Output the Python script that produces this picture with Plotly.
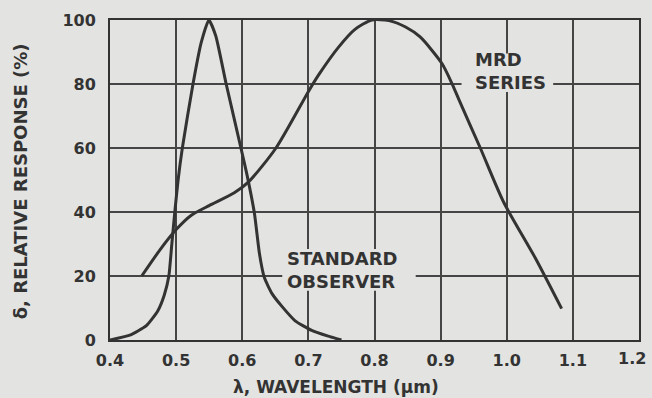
import plotly.graph_objects as go

# Standard observer curve (wavelength um, relative response %)
std_wl = [0.40, 0.43, 0.455, 0.472, 0.482, 0.489, 0.4935, 0.498, 0.503, 0.5094, 0.5255, 0.538,
          0.5495, 0.560, 0.5757, 0.598, 0.6068, 0.6184, 0.626, 0.6334, 0.645, 0.66, 0.68, 0.705,
          0.73, 0.75]
std_resp = [0, 1.5, 4.5, 9, 14, 20, 30, 40, 50, 60, 80, 93,
            100, 95, 80, 60, 52, 39.6, 27, 19.5, 14.5, 10.5, 6, 3,
            1.2, 0]

# MRD series curve
mrd_wl = [0.448, 0.475, 0.50, 0.523, 0.55, 0.588, 0.610, 0.651, 0.701, 0.716, 0.746,
          0.770, 0.796, 0.8217, 0.847, 0.869, 0.902, 0.917, 0.930, 0.960, 0.995, 1.043, 1.083]
mrd_resp = [20, 28, 34.5, 39, 42, 46, 49.5, 60, 78, 83, 91.6,
            97, 100, 99.8, 97.8, 94.7, 86.4, 80.2, 74, 60, 43.2, 25.7, 9.8]

x_ticks = [0.4, 0.5, 0.6, 0.7, 0.8, 0.9, 1.0, 1.1, 1.2]
x_labels = ["0.4", "0.5", "0.6", "0.7", "0.8", "0.9", "1.0", "1.1", "1.2"]
y_ticks = [0, 20, 40, 60, 80, 100]
y_labels = ["0", "20", "40", "60", "80", "100"]

BG = "#e3e3e1"
INK = "#333333"
GRID = "#454545"
FONT = "DejaVu Sans"

fig = go.Figure()
fig.add_trace(go.Scatter(x=std_wl, y=std_resp, mode="lines",
                         line=dict(color=INK, width=3, shape="spline", smoothing=0.5),
                         showlegend=False))
fig.add_trace(go.Scatter(x=mrd_wl, y=mrd_resp, mode="lines",
                         line=dict(color=INK, width=3, shape="spline", smoothing=0.7),
                         showlegend=False))

# gaps in the grid behind the curve labels
fig.add_shape(type="rect", xref="x", yref="y", x0=0.9316, x1=1.0702, y0=77.5, y1=89.5,
              fillcolor=BG, line=dict(width=0), layer="between")
fig.add_shape(type="rect", xref="x", yref="y", x0=0.6605, x1=0.8623, y0=15.4, y1=28.4,
              fillcolor=BG, line=dict(width=0), layer="between")

tickfont = dict(family=FONT, size=16, color=INK, weight="bold")
# last x label (at the very right edge) is drawn as an annotation so it is not hidden
x_axis_text = x_labels[:-1] + [""]
fig.update_xaxes(range=[0.4, 1.2], tickvals=x_ticks, ticktext=x_axis_text, showgrid=True,
                 gridcolor=GRID, gridwidth=1.5, showline=True, linecolor=INK, linewidth=2,
                 mirror=True, zeroline=False, ticks="", tickfont=tickfont, ticklabelstandoff=5)
fig.update_yaxes(range=[0, 100], tickvals=y_ticks, ticktext=y_labels, showgrid=True,
                 gridcolor=GRID, gridwidth=1.5, showline=True, linecolor=INK, linewidth=2,
                 mirror=True, zeroline=False, ticks="", tickfont=tickfont, ticklabelstandoff=9)
fig.add_annotation(x=1.0, y=-(359 - 340) / 324, xref="paper", yref="paper",
                   text=x_labels[-1], showarrow=False, xanchor="right", yanchor="middle",
                   xshift=9, font=tickfont)

annfont = dict(family=FONT, size=18, color=INK, weight="bold")
fig.add_annotation(x=0.9496, y=84.0, xref="x", yref="y", text="MRD<br>SERIES",
                   showarrow=False, xanchor="left", yanchor="middle", align="left", font=annfont)
fig.add_annotation(x=0.6605 + 0.004, y=21.8, xref="x", yref="y", text="STANDARD<br>OBSERVER",
                   showarrow=False, xanchor="left", yanchor="middle", align="left", font=annfont)

# axis titles
fig.add_annotation(x=(337 - 110) / 531, y=-(388 - 340) / 324, xref="paper", yref="paper",
                   text="λ, WAVELENGTH (μm)", showarrow=False, xanchor="center", yanchor="middle",
                   font=dict(family=FONT, size=17, color=INK, weight="bold"))
fig.add_annotation(x=-(110 - 21) / 531, y=(340 - 179) / 324, xref="paper", yref="paper",
                   text="δ, RELATIVE RESPONSE (%)", showarrow=False, textangle=-90,
                   xanchor="center", yanchor="middle",
                   font=dict(family=FONT, size=18, color=INK, weight="bold"))

fig.update_layout(width=652, height=398, margin=dict(l=110, r=11, t=16, b=58),
                  paper_bgcolor=BG, plot_bgcolor=BG)
fig.write_html("out.html")
